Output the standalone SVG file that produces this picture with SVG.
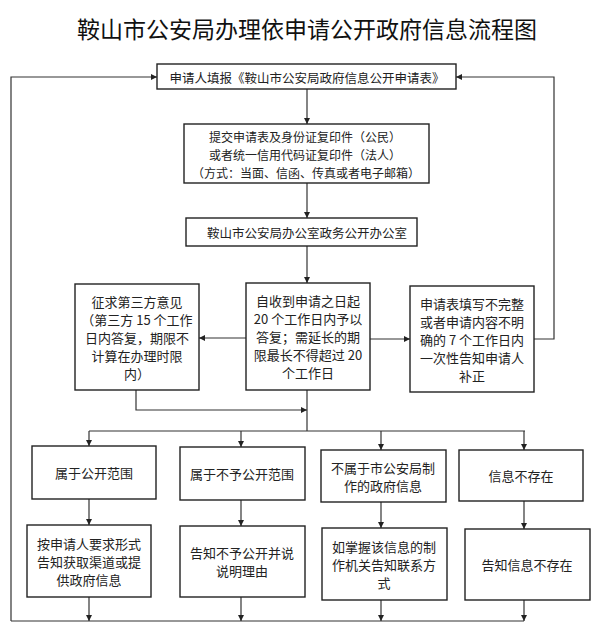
<svg xmlns="http://www.w3.org/2000/svg" width="600" height="644" viewBox="0 0 600 644">
<style>
.bx{fill:#fff;stroke:#222;stroke-width:1.4}
.t{font-family:"Noto Sans CJK SC","Noto Sans",sans-serif;font-size:13px;fill:#222;text-anchor:middle;dominant-baseline:central}
.s{font-size:12.5px}
.s2{font-size:12px}
.ttl{font-family:"Noto Sans CJK SC","Noto Sans",sans-serif;font-size:23px;fill:#111;text-anchor:middle}
.ln{fill:none;stroke:#333;stroke-width:1.2}
</style>
<defs>
<marker id="ah" markerWidth="6" markerHeight="6" refX="6" refY="3" orient="auto" markerUnits="userSpaceOnUse">
<path d="M0,0 L6,3 L0,6 z" fill="#222"/>
</marker>
</defs>
<rect width="600" height="644" fill="#fff"/>
<text class="ttl" x="307" y="38">鞍山市公安局办理依申请公开政府信息流程图</text>

<g id="connectors">
<path class="ln" d="M11,621 V77 H157" marker-end="url(#ah)"/>
<path class="ln" d="M534,339 H554 V77 H456" marker-end="url(#ah)"/>
<path class="ln" d="M307,89 V124" marker-end="url(#ah)"/>
<path class="ln" d="M307,183 V218" marker-end="url(#ah)"/>
<path class="ln" d="M307,246 V283" marker-end="url(#ah)"/>
<path class="ln" d="M246,338 H199" marker-end="url(#ah)"/>
<path class="ln" d="M370,339 H410" marker-end="url(#ah)"/>
<path class="ln" d="M136,390 V410 H307" marker-end="url(#ah)"/>
<path class="ln" d="M307,390 V431"/>
<path class="ln" d="M89,431 H525"/>
<path class="ln" d="M89,431 V446" marker-end="url(#ah)"/>
<path class="ln" d="M241,431 V447" marker-end="url(#ah)"/>
<path class="ln" d="M381,431 V450" marker-end="url(#ah)"/>
<path class="ln" d="M524,431 V450" marker-end="url(#ah)"/>
<path class="ln" d="M89,499 V525" marker-end="url(#ah)"/>
<path class="ln" d="M241,500 V526" marker-end="url(#ah)"/>
<path class="ln" d="M381,502 V528" marker-end="url(#ah)"/>
<path class="ln" d="M524,501 V529" marker-end="url(#ah)"/>
<path class="ln" d="M11,621 H524"/>
<path class="ln" d="M89,597 V621" marker-end="url(#ah)"/>
<path class="ln" d="M241,597 V621" marker-end="url(#ah)"/>
<path class="ln" d="M381,600 V621" marker-end="url(#ah)"/>
<path class="ln" d="M524,600 V621" marker-end="url(#ah)"/>
</g>

<g id="n1"><rect class="bx" x="157" y="64" width="299" height="25"/>
<text class="t s" x="307" y="77">申请人填报《鞍山市公安局政府信息公开申请表》</text></g>

<g id="n2"><rect class="bx" x="184" y="124" width="245" height="59"/>
<text class="t s2" x="305" y="136">提交申请表及身份证复印件（公民）</text>
<text class="t s2" x="305" y="154">或者统一信用代码证复印件（法人）</text>
<text class="t s2" x="306" y="172">（方式：当面、信函、传真或者电子邮箱）</text></g>

<g id="n3"><rect class="bx" x="186" y="218" width="231" height="28"/>
<text class="t s" x="307" y="232">鞍山市公安局办公室政务公开办公室</text></g>

<g id="n4"><rect class="bx" x="75" y="284" width="124" height="106"/>
<text class="t" x="137" y="301">征求第三方意见</text>
<text class="t" x="137" y="319">（第三方 15 个工作</text>
<text class="t" x="137" y="337">日内答复，期限不</text>
<text class="t" x="137" y="355">计算在办理时限</text>
<text class="t" x="137" y="373">内）</text></g>

<g id="n5"><rect class="bx" x="246" y="283" width="124" height="107"/>
<text class="t" x="308" y="300">自收到申请之日起</text>
<text class="t" x="308" y="318">20 个工作日内予以</text>
<text class="t" x="308" y="336">答复；需延长的期</text>
<text class="t" x="308" y="354">限最长不得超过 20</text>
<text class="t" x="308" y="372">个工作日</text></g>

<g id="n6"><rect class="bx" x="410" y="286" width="124" height="106"/>
<text class="t" x="472" y="303">申请表填写不完整</text>
<text class="t" x="472" y="321">或者申请内容不明</text>
<text class="t" x="472" y="339">确的 7 个工作日内</text>
<text class="t" x="472" y="357">一次性告知申请人</text>
<text class="t" x="472" y="375">补正</text></g>

<g id="n7"><rect class="bx" x="32" y="446" width="124" height="53"/>
<text class="t" x="94" y="472">属于公开范围</text></g>
<g id="n8"><rect class="bx" x="180" y="447" width="125" height="53"/>
<text class="t" x="242" y="473">属于不予公开范围</text></g>
<g id="n9"><rect class="bx" x="321" y="450" width="125" height="52"/>
<text class="t" x="383" y="467">不属于市公安局制</text>
<text class="t" x="383" y="485">作的政府信息</text></g>
<g id="n10"><rect class="bx" x="459" y="450" width="124" height="51"/>
<text class="t" x="521" y="475">信息不存在</text></g>

<g id="n11"><rect class="bx" x="27" y="525" width="124" height="72"/>
<text class="t" x="89" y="543">按申请人要求形式</text>
<text class="t" x="89" y="561">告知获取渠道或提</text>
<text class="t" x="89" y="579">供政府信息</text></g>
<g id="n12"><rect class="bx" x="180" y="526" width="125" height="71"/>
<text class="t" x="242" y="552">告知不予公开并说</text>
<text class="t" x="242" y="570">说明理由</text></g>
<g id="n13"><rect class="bx" x="322" y="528" width="125" height="72"/>
<text class="t" x="384" y="546">如掌握该信息的制</text>
<text class="t" x="384" y="564">作机关告知联系方</text>
<text class="t" x="384" y="582">式</text></g>
<g id="n14"><rect class="bx" x="465" y="529" width="125" height="71"/>
<text class="t" x="527" y="564">告知信息不存在</text></g>
</svg>
